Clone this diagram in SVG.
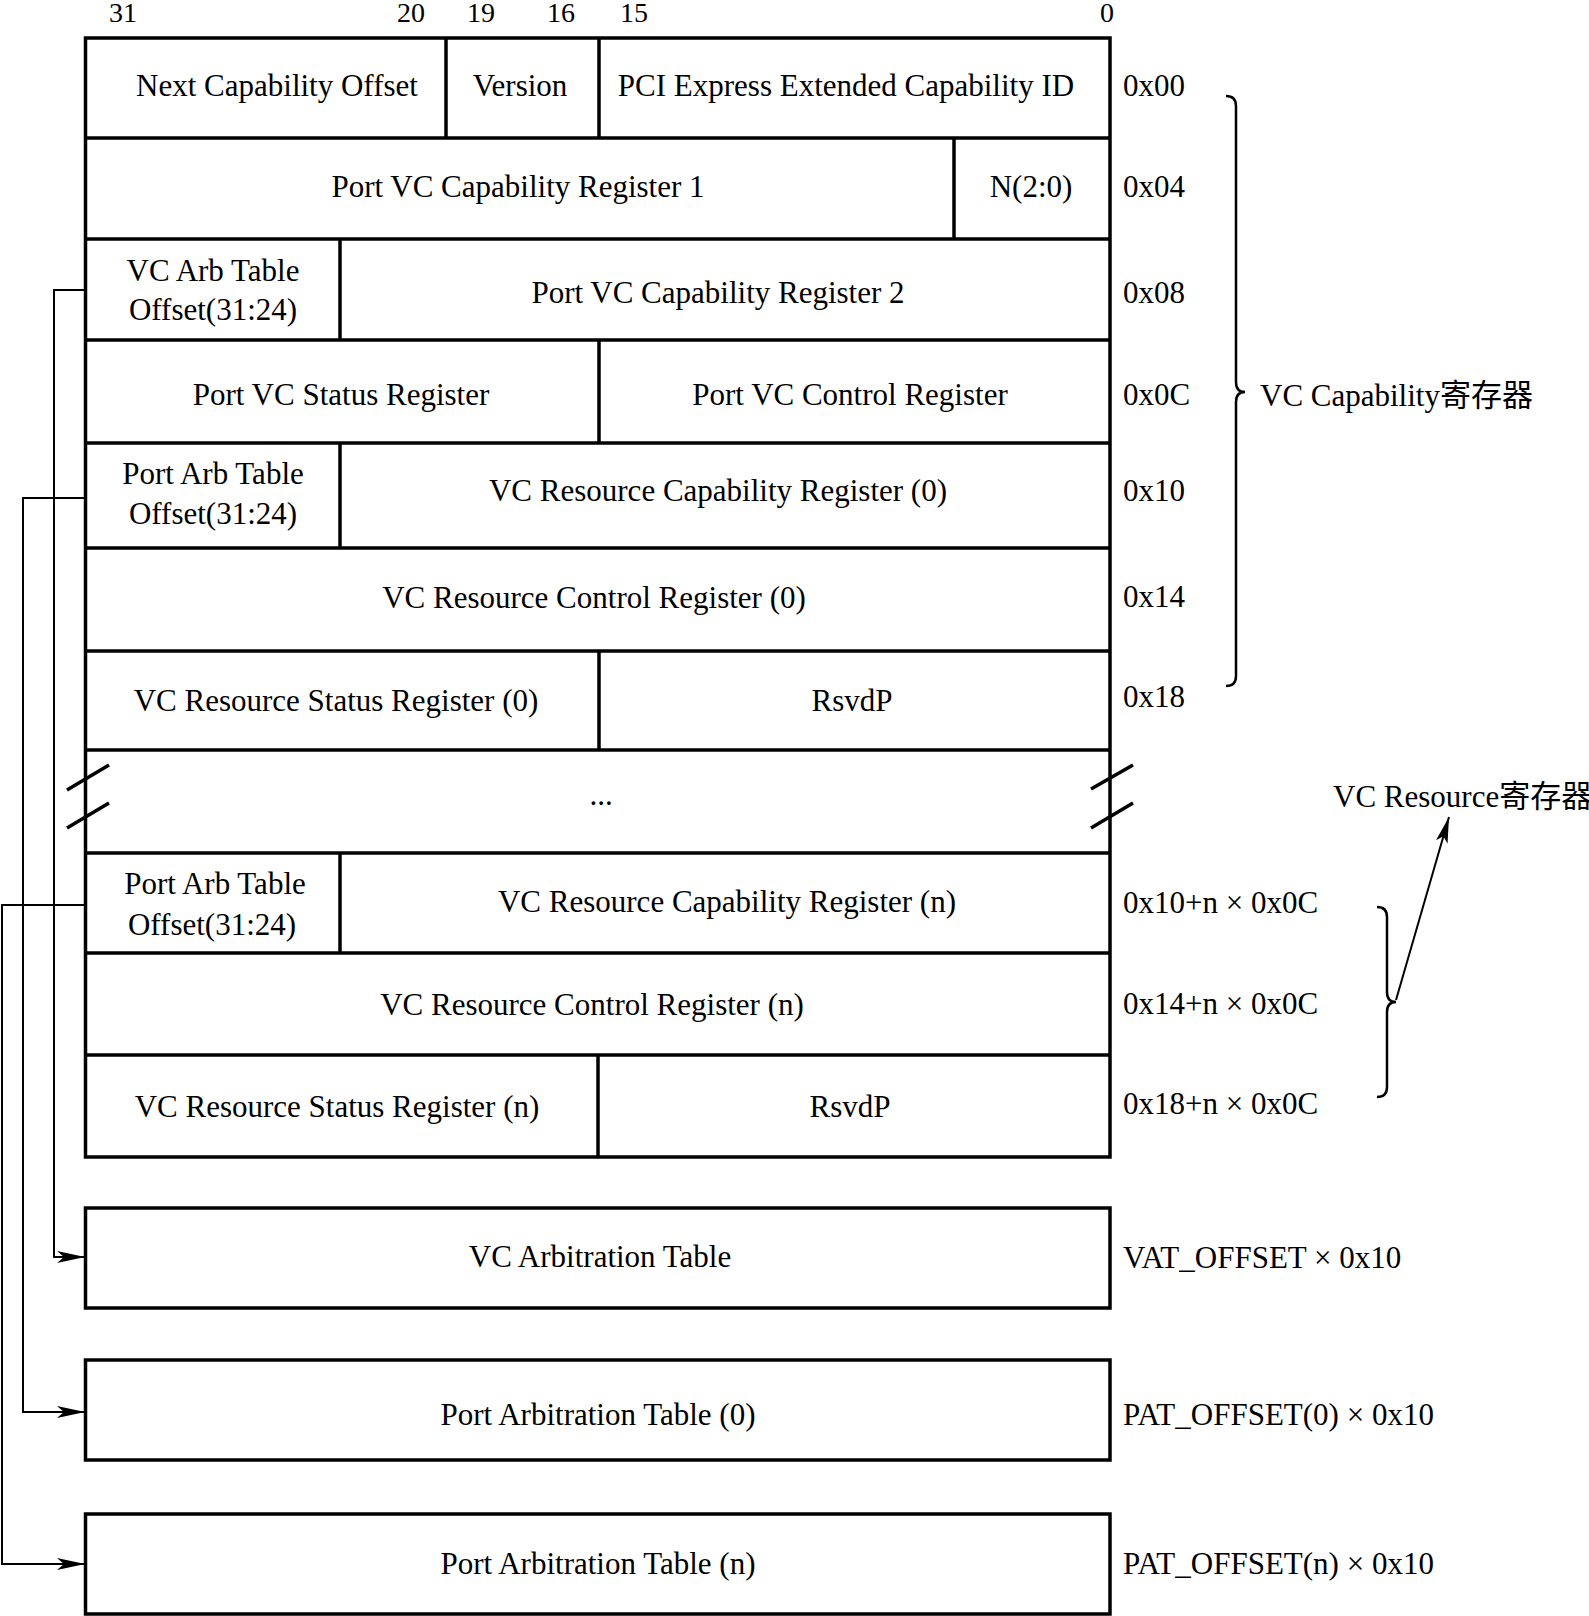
<svg xmlns="http://www.w3.org/2000/svg" width="1589" height="1616" viewBox="0 0 1589 1616">
<style>
.t{font-family:"Liberation Serif","Noto Sans CJK SC",serif;font-size:31px;fill:#000;text-anchor:middle}
.l{font-family:"Liberation Serif","Noto Sans CJK SC",serif;font-size:31px;fill:#000;text-anchor:start}
.b{font-family:"Liberation Serif",serif;font-size:28px;fill:#000;text-anchor:middle}
.box{fill:#fff;stroke:#000;stroke-width:3.5}
.ln{stroke:#000;stroke-width:3.5;fill:none}
.cn{stroke:#000;stroke-width:2;fill:none}
.br{stroke:#000;stroke-width:2.5;fill:none}
</style>
<defs>
<marker id="ah" markerUnits="userSpaceOnUse" markerWidth="30" markerHeight="14" refX="28" refY="6" orient="auto">
<path d="M0,0 L28,6 L0,12 L7,6 Z" fill="#000"/>
</marker>
<marker id="ah2" markerUnits="userSpaceOnUse" markerWidth="28" markerHeight="14" refX="26" refY="6" orient="auto">
<path d="M0,0 L26,6 L0,12 L6,6 Z" fill="#000"/>
</marker>
</defs>
<rect width="1589" height="1616" fill="#fff"/>

<g id="bits">
<text class="b" x="123" y="22">31</text>
<text class="b" x="411" y="22">20</text>
<text class="b" x="481" y="22">19</text>
<text class="b" x="561" y="22">16</text>
<text class="b" x="634" y="22">15</text>
<text class="b" x="1107" y="22">0</text>
</g>

<g id="table">
<rect class="box" x="85.5" y="38" width="1024.5" height="1119"/>
<line class="ln" x1="85.5" y1="138" x2="1110" y2="138"/>
<line class="ln" x1="85.5" y1="239" x2="1110" y2="239"/>
<line class="ln" x1="85.5" y1="340" x2="1110" y2="340"/>
<line class="ln" x1="85.5" y1="443" x2="1110" y2="443"/>
<line class="ln" x1="85.5" y1="548" x2="1110" y2="548"/>
<line class="ln" x1="85.5" y1="651" x2="1110" y2="651"/>
<line class="ln" x1="85.5" y1="750" x2="1110" y2="750"/>
<line class="ln" x1="85.5" y1="853" x2="1110" y2="853"/>
<line class="ln" x1="85.5" y1="953" x2="1110" y2="953"/>
<line class="ln" x1="85.5" y1="1055" x2="1110" y2="1055"/>
<line class="ln" x1="446" y1="38" x2="446" y2="138"/>
<line class="ln" x1="599" y1="38" x2="599" y2="138"/>
<line class="ln" x1="954" y1="138" x2="954" y2="239"/>
<line class="ln" x1="340" y1="239" x2="340" y2="340"/>
<line class="ln" x1="599" y1="340" x2="599" y2="443"/>
<line class="ln" x1="340" y1="443" x2="340" y2="548"/>
<line class="ln" x1="599" y1="651" x2="599" y2="750"/>
<line class="ln" x1="340" y1="853" x2="340" y2="953"/>
<line class="ln" x1="598" y1="1055" x2="598" y2="1157"/>
<line class="ln" x1="67" y1="790" x2="109" y2="765"/>
<line class="ln" x1="67" y1="828" x2="109" y2="803"/>
<line class="ln" x1="1091" y1="789" x2="1133" y2="765"/>
<line class="ln" x1="1091" y1="828" x2="1133" y2="803"/>
</g>

<g id="row0">
<text class="t" x="277" y="96">Next Capability Offset</text>
<text class="t" x="520" y="96">Version</text>
<text class="t" x="846" y="96">PCI Express Extended Capability ID</text>
<text class="l" x="1123" y="96">0x00</text>
</g>
<g id="row1">
<text class="t" x="518" y="197">Port VC Capability Register 1</text>
<text class="t" x="1031" y="197">N(2:0)</text>
<text class="l" x="1123" y="197">0x04</text>
</g>
<g id="row2">
<text class="t" x="213" y="281">VC Arb Table</text>
<text class="t" x="213" y="320">Offset(31:24)</text>
<text class="t" x="718" y="303">Port VC Capability Register 2</text>
<text class="l" x="1123" y="303">0x08</text>
</g>
<g id="row3">
<text class="t" x="341" y="405">Port VC Status Register</text>
<text class="t" x="850" y="405">Port VC Control Register</text>
<text class="l" x="1123" y="405">0x0C</text>
</g>
<g id="row4">
<text class="t" x="213" y="484">Port Arb Table</text>
<text class="t" x="213" y="524">Offset(31:24)</text>
<text class="t" x="718" y="501">VC Resource Capability Register (0)</text>
<text class="l" x="1123" y="501">0x10</text>
</g>
<g id="row5">
<text class="t" x="594" y="608">VC Resource Control Register (0)</text>
<text class="l" x="1123" y="607">0x14</text>
</g>
<g id="row6">
<text class="t" x="336" y="711">VC Resource Status Register (0)</text>
<text class="t" x="852" y="711">RsvdP</text>
<text class="l" x="1123" y="707">0x18</text>
</g>
<g id="row7">
<text class="t" x="601" y="805">...</text>
</g>
<g id="row8">
<text class="t" x="215" y="894">Port Arb Table</text>
<text class="t" x="212" y="935">Offset(31:24)</text>
<text class="t" x="727" y="912">VC Resource Capability Register (n)</text>
<text class="l" x="1123" y="913">0x10+n × 0x0C</text>
</g>
<g id="row9">
<text class="t" x="592" y="1015">VC Resource Control Register (n)</text>
<text class="l" x="1123" y="1014">0x14+n × 0x0C</text>
</g>
<g id="row10">
<text class="t" x="337" y="1117">VC Resource Status Register (n)</text>
<text class="t" x="850" y="1117">RsvdP</text>
<text class="l" x="1123" y="1114">0x18+n × 0x0C</text>
</g>

<g id="vat">
<rect class="box" x="85.5" y="1208" width="1024.5" height="100"/>
<text class="t" x="600" y="1267">VC Arbitration Table</text>
<text class="l" x="1123" y="1268">VAT_OFFSET × 0x10</text>
</g>
<g id="pat0">
<rect class="box" x="85.5" y="1360" width="1024.5" height="100"/>
<text class="t" x="598" y="1425">Port Arbitration Table (0)</text>
<text class="l" x="1123" y="1425">PAT_OFFSET(0) × 0x10</text>
</g>
<g id="patn">
<rect class="box" x="85.5" y="1514" width="1024.5" height="100"/>
<text class="t" x="598" y="1574">Port Arbitration Table (n)</text>
<text class="l" x="1123" y="1574">PAT_OFFSET(n) × 0x10</text>
</g>

<g id="capbrace">
<path class="br" d="M1226,96 Q1236,96 1236,106 L1236,382 Q1236,392 1245,392 Q1236,392 1236,402 L1236,676 Q1236,686 1226,686"/>
<text class="l" x="1260" y="406">VC Capability寄存器</text>
</g>
<g id="resbrace">
<path class="br" d="M1377,907 Q1387,907 1387,917 L1387,992 Q1387,1002 1396,1002 Q1387,1002 1387,1012 L1387,1087 Q1387,1097 1377,1097"/>
<text class="l" x="1333" y="807">VC Resource寄存器</text>
</g>

<g id="connectors">
<polyline class="cn" points="85,290 54,290 54,1257 85,1257" marker-end="url(#ah)"/>
<polyline class="cn" points="85,498 23,498 23,1412 85,1412" marker-end="url(#ah)"/>
<polyline class="cn" points="85,905 2,905 2,1564 85,1564" marker-end="url(#ah)"/>
<line class="cn" x1="1396" y1="1000" x2="1449" y2="817" marker-end="url(#ah2)"/>
</g>
</svg>
